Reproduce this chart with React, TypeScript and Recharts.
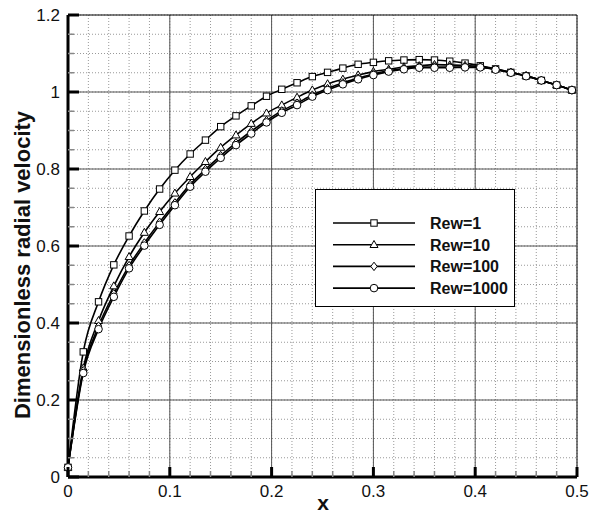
import React from 'react';
import { LineChart, Line, XAxis, YAxis, CartesianGrid, ReferenceLine, Legend } from 'recharts';

// x positions of the computed points
const xValues = [0, 0.015, 0.03, 0.045, 0.06, 0.075, 0.09, 0.105, 0.12, 0.135, 0.15, 0.165, 0.18, 0.195, 0.21, 0.225, 0.24, 0.255, 0.27, 0.285, 0.3, 0.315, 0.33, 0.345, 0.36, 0.375, 0.39, 0.405, 0.42, 0.435, 0.45, 0.465, 0.48, 0.495];

const rew1 = [0.025, 0.325, 0.455, 0.551, 0.626, 0.691, 0.748, 0.797, 0.839, 0.875, 0.910, 0.938, 0.964, 0.989, 1.007, 1.024, 1.040, 1.051, 1.062, 1.072, 1.077, 1.081, 1.083, 1.084, 1.083, 1.080, 1.075, 1.068, 1.060, 1.051, 1.042, 1.030, 1.018, 1.005];
const rew10 = [0.025, 0.283, 0.406, 0.496, 0.572, 0.635, 0.689, 0.737, 0.780, 0.819, 0.856, 0.888, 0.918, 0.945, 0.966, 0.986, 1.005, 1.021, 1.033, 1.044, 1.053, 1.059, 1.065, 1.068, 1.071, 1.070, 1.069, 1.066, 1.059, 1.051, 1.042, 1.030, 1.018, 1.005];
const rew100 = [0.025, 0.276, 0.392, 0.476, 0.549, 0.608, 0.662, 0.712, 0.760, 0.799, 0.835, 0.868, 0.898, 0.926, 0.951, 0.971, 0.992, 1.009, 1.024, 1.036, 1.047, 1.055, 1.061, 1.065, 1.065, 1.065, 1.065, 1.065, 1.059, 1.051, 1.042, 1.030, 1.018, 1.005];
const rew1000 = [0.025, 0.270, 0.384, 0.468, 0.542, 0.601, 0.655, 0.706, 0.754, 0.793, 0.829, 0.862, 0.892, 0.921, 0.946, 0.966, 0.988, 1.005, 1.020, 1.033, 1.044, 1.053, 1.059, 1.063, 1.063, 1.063, 1.064, 1.064, 1.058, 1.050, 1.041, 1.030, 1.018, 1.005];

const seriesNames = ['Rew=1', 'Rew=10', 'Rew=100', 'Rew=1000'];
const seriesKeys = ['rew1', 'rew10', 'rew100', 'rew1000'];
const markerKinds = ['square', 'triangle', 'diamond', 'circle'];

const xTicks = [0, 0.02, 0.04, 0.06, 0.08, 0.1, 0.12, 0.14, 0.16, 0.18, 0.2, 0.22, 0.24, 0.26, 0.28, 0.3, 0.32, 0.34, 0.36, 0.38, 0.4, 0.42, 0.44, 0.46, 0.48, 0.5];
const yTicks = [0, 0.05, 0.1, 0.15, 0.2, 0.25, 0.3, 0.35, 0.4, 0.45, 0.5, 0.55, 0.6, 0.65, 0.7, 0.75, 0.8, 0.85, 0.9, 0.95, 1, 1.05, 1.1, 1.15, 1.2];
const xMajor = [0.1, 0.2, 0.3, 0.4, 0.5];
const yMajor = [0.2, 0.4, 0.6, 0.8, 1, 1.2];

const data = xValues.map((x, i) => ({
  x,
  rew1: rew1[i],
  rew10: rew10[i],
  rew100: rew100[i],
  rew1000: rew1000[i],
}));

const FONT = '"Liberation Sans", Arial, sans-serif';

const isMajor = (v: number, step: number) => Math.abs(v / step - Math.round(v / step)) < 1e-6;

function Marker({ kind, cx, cy }: { kind: string; cx: number; cy: number }) {
  if (cx == null || cy == null) return null;
  if (kind === 'square') return <rect x={cx - 3.2} y={cy - 3.2} width={6.4} height={6.4} fill="#fff" stroke="#000" strokeWidth={1} />;
  if (kind === 'triangle') return <polygon points={`${cx},${cy - 4.2} ${cx + 4},${cy + 2.8} ${cx - 4},${cy + 2.8}`} fill="#fff" stroke="#000" strokeWidth={1} />;
  if (kind === 'diamond') return <polygon points={`${cx},${cy - 4.2} ${cx + 3.2},${cy} ${cx},${cy + 4.2} ${cx - 3.2},${cy}`} fill="#fff" stroke="#000" strokeWidth={1} />;
  return <circle cx={cx} cy={cy} r={3.8} fill="#fff" stroke="#000" strokeWidth={1} />;
}

function XTick(props: any) {
  const { x, y, payload } = props;
  const major = isMajor(payload.value, 0.1);
  return (
    <g>
      <line x1={x} x2={x} y1={y} y2={y - (major ? 10 : 6)} stroke={major ? '#000' : '#888'} strokeWidth={major ? 3 : 1.5} />
      {major && (
        <text x={x} y={y + 20} textAnchor="middle" fontSize={17} fill="#111" fontFamily={FONT}>
          {String(Number(payload.value.toFixed(1)))}
        </text>
      )}
    </g>
  );
}

function YTick(props: any) {
  const { x, y, payload } = props;
  const major = isMajor(payload.value, 0.2);
  return (
    <g>
      <line x1={x} x2={x + (major ? 11 : 6)} y1={y} y2={y} stroke={major ? '#000' : '#888'} strokeWidth={major ? 3 : 1.5} />
      {major && (
        <text x={x - 8} y={y + 6} textAnchor="end" fontSize={17} fill="#111" fontFamily={FONT}>
          {String(Number(payload.value.toFixed(1)))}
        </text>
      )}
    </g>
  );
}

function LegendBox() {
  return (
    <div style={{ width: 200, height: 118, border: '1px solid #000', background: '#fff', boxSizing: 'border-box' }}>
      <svg width={198} height={116}>
        {seriesNames.map((name, i) => {
          const cy = 33 + i * 21.7;
          return (
            <g key={name}>
              <line x1={17} x2={99} y1={cy} y2={cy} stroke="#000" strokeWidth={1.6} />
              <Marker kind={markerKinds[i]} cx={58} cy={cy} />
              <text x={114} y={cy + 6} fontSize={16} fontWeight="bold" fill="#111" fontFamily={FONT}>{name}</text>
            </g>
          );
        })}
      </svg>
    </div>
  );
}

export default function App() {
  return (
    <div style={{ position: 'absolute', left: 0, top: 0, background: '#fff' }}>
      <LineChart width={590} height={517} data={data} margin={{ top: 15, right: 13, left: 0, bottom: 0 }}>
        <CartesianGrid stroke="#999" strokeDasharray="1 2" strokeWidth={1} />
        {xMajor.map((v) => (
          <ReferenceLine key={'x' + v} x={v} stroke={v === 0.5 ? '#000' : '#555'} strokeWidth={1} ifOverflow="visible" />
        ))}
        {yMajor.map((v) => (
          <ReferenceLine key={'y' + v} y={v} stroke={v === 1.2 ? '#000' : '#555'} strokeWidth={1} ifOverflow="visible" />
        ))}
        <XAxis
          dataKey="x"
          type="number"
          domain={[0, 0.5]}
          ticks={xTicks}
          interval={0}
          height={40}
          tickSize={0}
          tickMargin={0}
          tickLine={false}
          tick={<XTick />}
          axisLine={{ stroke: '#000', strokeWidth: 3 }}
          label={{
            content: () => (
              <text x={323} y={510} textAnchor="middle" fontSize={21} fontWeight="bold" fill="#111" fontFamily={FONT}>x</text>
            ),
          }}
        />
        <YAxis
          type="number"
          domain={[0, 1.2]}
          ticks={yTicks}
          interval={0}
          width={68}
          tickSize={0}
          tickMargin={0}
          tickLine={false}
          tick={<YTick />}
          axisLine={{ stroke: '#000', strokeWidth: 3 }}
          label={{
            content: () => (
              <text transform="translate(30, 265) rotate(-90)" textAnchor="middle" fontSize={22} fontWeight="bold" fill="#111" fontFamily={FONT}>
                Dimensionless radial velocity
              </text>
            ),
          }}
        />
        {seriesKeys.map((key, i) => (
          <Line
            key={key}
            type="monotone"
            dataKey={key}
            name={seriesNames[i]}
            stroke="#000"
            strokeWidth={1.6}
            isAnimationActive={false}
            dot={(p: any) => <Marker key={key + p.index} kind={markerKinds[i]} cx={p.cx} cy={p.cy} />}
          />
        ))}
        <Legend
          layout="vertical"
          align="center"
          verticalAlign="middle"
          wrapperStyle={{ left: 315, top: 189, width: 200, height: 118 }}
          content={() => <LegendBox />}
        />
      </LineChart>
    </div>
  );
}
